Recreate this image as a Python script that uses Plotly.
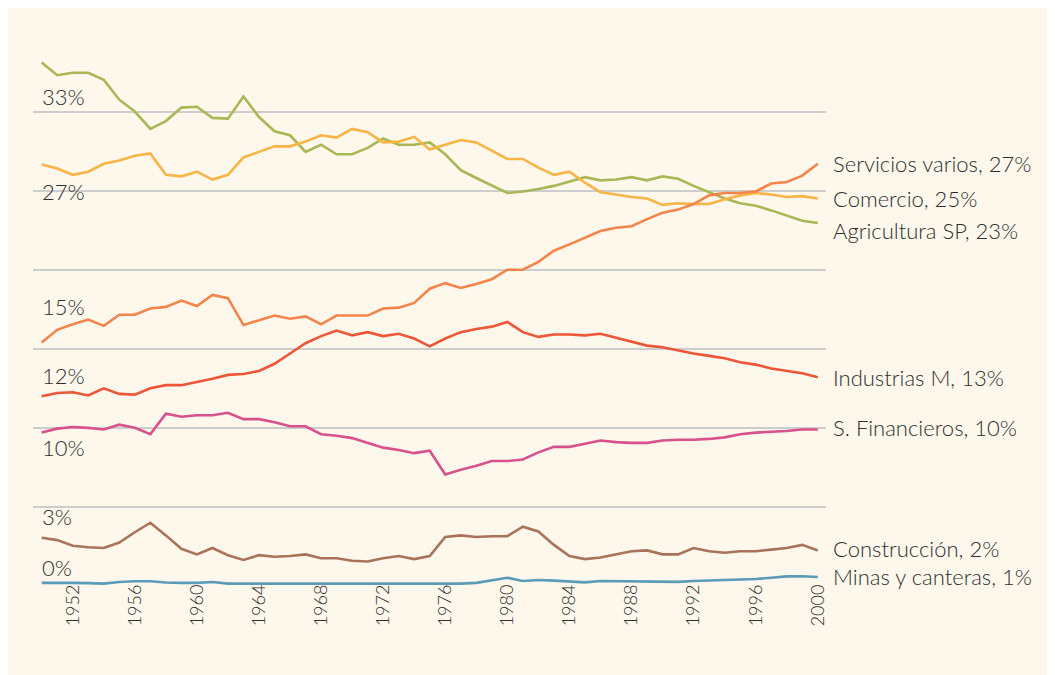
import plotly.graph_objects as go

years = list(range(1950, 2001))

agricultura = [33.1, 32.3, 32.45, 32.45, 32.0, 30.75, 30.0, 28.9, 29.4, 30.25,
               30.3, 29.6, 29.55, 30.95, 29.65, 28.75, 28.5, 27.45, 27.9, 27.3,
               27.3, 27.7, 28.3, 27.9, 27.9, 28.05, 27.3, 26.3, 25.8, 25.3,
               24.85, 24.95, 25.1, 25.3, 25.6, 25.85, 25.65, 25.7, 25.85, 25.65,
               25.9, 25.75, 25.3, 24.9, 24.5, 24.2, 24.05, 23.75, 23.45, 23.1,
               22.95]
comercio = [26.65, 26.4, 26.0, 26.2, 26.7, 26.9, 27.2, 27.35, 26.0, 25.9,
            26.2, 25.7, 26.0, 27.1, 27.45, 27.8, 27.8, 28.1, 28.5, 28.35,
            28.9, 28.7, 28.05, 28.1, 28.4, 27.6, 27.9, 28.2, 28.05, 27.55,
            27.0, 27.0, 26.45, 26.0, 26.2, 25.5, 24.9, 24.75, 24.6, 24.5,
            24.1, 24.2, 24.15, 24.15, 24.45, 24.7, 24.85, 24.75, 24.6, 24.65,
            24.5]
servicios = [15.4, 16.2, 16.55, 16.85, 16.45, 17.15, 17.15, 17.55, 17.65, 18.05,
             17.7, 18.4, 18.2, 16.5, 16.8, 17.1, 16.9, 17.05, 16.55, 17.1,
             17.1, 17.1, 17.55, 17.6, 17.9, 18.8, 19.15, 18.85, 19.1, 19.4,
             20.0, 20.0, 20.5, 21.2, 21.6, 22.0, 22.45, 22.65, 22.75, 23.2,
             23.6, 23.8, 24.15, 24.7, 24.85, 24.85, 24.95, 25.45, 25.55, 25.95,
             26.7]
industrias = [12.0, 12.2, 12.25, 12.05, 12.5, 12.15, 12.1, 12.5, 12.7, 12.7,
              12.9, 13.1, 13.35, 13.4, 13.6, 14.05, 14.7, 15.35, 15.8, 16.15,
              15.85, 16.05, 15.8, 15.95, 15.65, 15.15, 15.65, 16.05, 16.25, 16.4,
              16.7, 16.05, 15.75, 15.9, 15.9, 15.85, 15.95, 15.7, 15.45, 15.2,
              15.1, 14.9, 14.7, 14.55, 14.4, 14.15, 14.0, 13.75, 13.6, 13.45,
              13.2]
financieros = [9.7, 9.95, 10.05, 10.0, 9.9, 10.2, 10.0, 9.6, 10.9, 10.7,
               10.8, 10.8, 10.95, 10.55, 10.55, 10.35, 10.1, 10.1, 9.6, 9.5,
               9.35, 9.05, 8.75, 8.6, 8.4, 8.55, 7.05, 7.35, 7.6, 7.9,
               7.9, 8.0, 8.45, 8.8, 8.8, 9.0, 9.2, 9.1, 9.05, 9.05,
               9.2, 9.25, 9.25, 9.3, 9.4, 9.6, 9.7, 9.75, 9.8, 9.9,
               9.9]
construccion = [3.05, 2.9, 2.55, 2.45, 2.4, 2.75, 3.4, 4.0, 3.2, 2.35,
                2.0, 2.4, 1.95, 1.65, 1.95, 1.85, 1.9, 2.0, 1.75, 1.75,
                1.6, 1.55, 1.75, 1.9, 1.7, 1.9, 3.1, 3.2, 3.1, 3.15,
                3.15, 3.75, 3.45, 2.6, 1.9, 1.7, 1.8, 2.0, 2.2, 2.25,
                2.0, 2.0, 2.4, 2.2, 2.1, 2.2, 2.2, 2.3, 2.4, 2.6,
                2.25]
minas = [0.2, 0.22, 0.2, 0.18, 0.15, 0.25, 0.3, 0.3, 0.22, 0.2,
         0.2, 0.25, 0.15, 0.15, 0.15, 0.15, 0.15, 0.15, 0.13, 0.13,
         0.13, 0.13, 0.12, 0.12, 0.13, 0.13, 0.13, 0.15, 0.2, 0.35,
         0.52, 0.32, 0.38, 0.34, 0.28, 0.23, 0.32, 0.3, 0.3, 0.3,
         0.28, 0.26, 0.32, 0.35, 0.35, 0.38, 0.44, 0.52, 0.61, 0.62,
         0.57]

series = [agricultura, comercio, servicios, industrias, financieros, construccion, minas]
end_labels = ["Agricultura SP, 23%", "Comercio, 25%", "Servicios varios, 27%",
              "Industrias M, 13%", "S. Financieros, 10%", "Construcción, 2%",
              "Minas y canteras, 1%"]
start_labels = ["33%", "27%", "15%", "12%", "10%", "3%", "0%"]
colors = ["#a9b755", "#f9b446", "#f5844a", "#ee5638", "#d9518c", "#a9735a", "#5a9bb8"]
# pixel nudges for the labels (start, end)
start_shift = [-34, -27, 36, 21, -15, 21, 15]
end_shift = [-7, 0, 0, 0, 2, 2, 0]

font = dict(family="Lato", size=22, color="#2f2f2f", weight=300)

fig = go.Figure()
for vals, col in zip(series, colors):
    fig.add_trace(go.Scatter(x=years, y=vals, mode="lines",
                             line=dict(color=col, width=2.6), hoverinfo="skip"))

for vals, s_lab, e_lab, s_sh, e_sh in zip(series, start_labels, end_labels,
                                          start_shift, end_shift):
    fig.add_annotation(x=years[0], y=vals[0], text=s_lab, showarrow=False,
                       xanchor="left", yanchor="middle", xshift=-2, yshift=s_sh,
                       font=font)
    fig.add_annotation(x=years[-1], y=vals[-1], text=e_lab, showarrow=False,
                       xanchor="left", yanchor="middle", xshift=13, yshift=e_sh,
                       font=font)

fig.update_layout(
    width=1055, height=675,
    margin=dict(l=25, r=237, t=24, b=97),
    paper_bgcolor="#fdf7ec", plot_bgcolor="#fdf7ec",
    showlegend=False,
)
fig.update_xaxes(range=[1949.44, 2000.53], tickmode="array",
                 tickvals=list(range(1952, 2001, 4)), tickangle=-90,
                 showgrid=False, zeroline=False, showline=False, ticks="",
                 ticklabelstandoff=-6,
                 tickfont=dict(family="Lato", size=18, color="#2f2f2f", weight=300))
fig.update_yaxes(range=[0, 35.03], tickvals=[5, 10, 15, 20, 25, 30, 35],
                 showticklabels=False, showgrid=True, gridcolor="#cdcdcd",
                 gridwidth=1.5, zeroline=False, showline=False)

fig.write_html("out.html")
